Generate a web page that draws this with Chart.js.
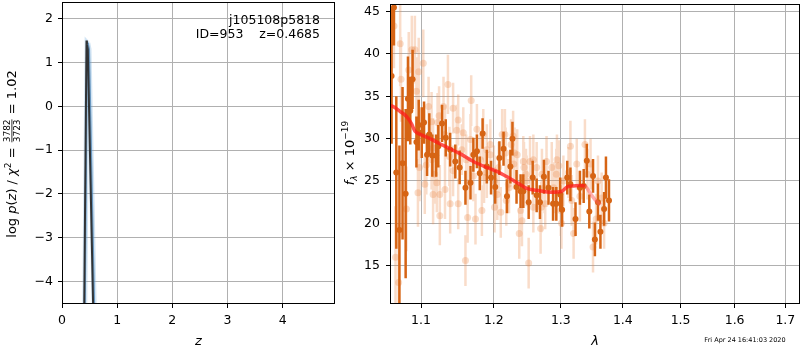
<!DOCTYPE html>
<html>
<head>
<meta charset="utf-8">
<script src="https://cdn.jsdelivr.net/npm/chart.js@4.4.0/dist/chart.umd.min.js"></script>
<style>
  html, body { margin: 0; padding: 0; background: #fff; }
  #wrap { position: relative; width: 800px; height: 350px; overflow: hidden; }
  #pz { position: absolute; left: 0; top: 0; }
  #spec { position: absolute; left: 340px; top: 0; }
</style>
</head>
<body>
<div id="wrap">
  <canvas id="pz" width="345" height="350"></canvas>
  <canvas id="spec" width="464" height="350"></canvas>
</div>
<script>
// --- p(z) panel ---
const pzTicksX = [0, 1, 2, 3, 4];
const pzTicksY = [-4, -3, -2, -1, 0, 1, 2];
// best-fit log p(z), dark line
const pzBestZ = [0.40, 0.444, 0.452, 0.468, 0.57];
const pzBest = [-5.0, 1.50, 1.42, 1.30, -4.9];
// template fit log p(z), blue line
const pzFitZ = [0.41, 0.455, 0.47, 0.49, 0.59];
const pzFit = [-5.0, 1.45, 1.43, 1.30, -5.0];
const objName = 'j105108p5818';
const objInfo = 'ID=953    z=0.4685';

// --- spectrum panel ---
const specTicksX = [1.1, 1.2, 1.3, 1.4, 1.5, 1.6, 1.7];
const specTicksY = [15, 20, 25, 30, 35, 40, 45];

// binned spectrum (dark)
const darkWave = [1.062, 1.065, 1.068, 1.072, 1.076, 1.080, 1.083, 1.086, 1.089, 1.094,
  1.097, 1.101, 1.104, 1.108, 1.111, 1.115, 1.120, 1.123, 1.128, 1.133,
  1.139, 1.146, 1.152, 1.160, 1.167, 1.171, 1.176, 1.180, 1.184, 1.190,
  1.196, 1.202, 1.208, 1.214, 1.219, 1.224, 1.227, 1.233, 1.239, 1.243,
  1.251, 1.257, 1.263, 1.268, 1.274, 1.281, 1.288, 1.293, 1.299, 1.302,
  1.310, 1.315, 1.323, 1.330, 1.336, 1.341, 1.345, 1.351, 1.354, 1.359,
  1.363, 1.369, 1.372, 1.377];
const darkFlux = [37.4, 45.5, 26.0, 19.2, 27.1, 23.5, 34.7, 33.3, 37.0, 29.6,
  31.6, 30.7, 31.9, 28.1, 30.5, 28.0, 28.0, 29.1, 31.8, 30.1,
  28.7, 27.3, 26.6, 24.2, 24.8, 28.1, 28.5, 25.9, 30.6, 26.7,
  25.4, 24.3, 27.7, 28.8, 23.2, 26.7, 30.0, 24.3, 23.8, 23.8,
  22.5, 25.4, 23.3, 22.5, 25.5, 24.2, 22.3, 22.3, 23.4, 21.6,
  25.4, 24.6, 20.5, 24.2, 24.4, 27.4, 21.4, 25.6, 18.1, 22.5,
  19.0, 21.7, 25.4, 22.7];
const darkErr = [8, 4.5, 9, 10, 9, 10, 5, 4, 3.5, 3,
  3, 3, 2.5, 2.5, 2.5, 2.5, 2.5, 2.5, 2.2, 2.2,
  2, 2, 2, 2, 2, 2, 2, 2, 1.8, 2,
  2, 2, 2, 2, 2, 2, 2, 2, 2, 2,
  2, 2, 2, 2, 2, 2, 2, 2, 2, 2,
  2, 2, 2, 2, 2, 2, 2, 2, 2, 2.2,
  2, 2, 2.5, 2.5];

// unbinned spectrum (light)
const lightWave = [1.065, 1.067, 1.071, 1.073, 1.074, 1.081, 1.084, 1.088, 1.092, 1.094,
  1.096, 1.097, 1.098, 1.103, 1.105, 1.107, 1.110, 1.114, 1.114, 1.116,
  1.116, 1.118, 1.121, 1.122, 1.124, 1.125, 1.125, 1.130, 1.132, 1.132,
  1.136, 1.138, 1.139, 1.143, 1.143, 1.148, 1.150, 1.150, 1.155, 1.157,
  1.160, 1.161, 1.163, 1.163, 1.167, 1.168, 1.171, 1.174, 1.176, 1.181,
  1.183, 1.185, 1.186, 1.190, 1.190, 1.195, 1.195, 1.200, 1.201, 1.201,
  1.205, 1.207, 1.210, 1.212, 1.216, 1.217, 1.218, 1.221, 1.222, 1.225,
  1.228, 1.229, 1.230, 1.234, 1.237, 1.239, 1.241, 1.243, 1.244, 1.247,
  1.248, 1.251, 1.253, 1.258, 1.258, 1.263, 1.269, 1.270, 1.271, 1.275,
  1.276, 1.278, 1.286, 1.289, 1.293, 1.294, 1.297, 1.300, 1.301, 1.304,
  1.312, 1.315, 1.317, 1.320, 1.325, 1.330, 1.338, 1.342, 1.347, 1.351,
  1.356, 1.359, 1.365, 1.369];
const lightFlux = [43.3, 16.0, 13.0, 41.2, 37.0, 21.7, 38.1, 40.5, 40.5, 35.6,
  23.6, 37.9, 26.6, 38.9, 24.6, 26.9, 33.8, 32.0, 27.5, 28.9,
  23.4, 25.8, 24.8, 31.9, 32.7, 23.4, 20.9, 33.8, 30.5, 24.0,
  36.4, 27.9, 22.3, 33.6, 26.2, 31.0, 32.2, 22.3, 28.7, 30.7,
  15.6, 27.5, 20.7, 24.8, 29.9, 34.5, 25.6, 20.5, 31.1, 27.5,
  21.5, 30.5, 25.4, 28.7, 26.0, 28.1, 29.3, 26.2, 25.0, 21.9,
  23.4, 26.6, 21.3, 30.5, 30.5, 28.3, 22.7, 24.6, 24.2, 29.3,
  30.3, 27.0, 28.3, 28.1, 18.8, 21.5, 20.3, 27.3, 26.6, 25.8,
  25.0, 15.3, 27.3, 21.9, 27.5, 26.6, 19.4, 21.9, 25.8, 24.2,
  22.3, 27.3, 26.6, 24.2, 25.8, 27.5, 26.8, 21.5, 20.0, 25.0,
  26.0, 29.1, 22.7, 18.8, 27.0, 23.2, 29.3, 25.8, 27.0, 17.2,
  20.5, 25.0, 23.0, 20.0];
const lightErr = [5, 6, 7, 5, 5, 5, 4.5, 4, 4, 4,
  4, 4, 4, 4, 3.5, 3.5, 3.5, 3.5, 3.5, 3.5,
  3.5, 3.5, 3.5, 3.5, 3.5, 3.5, 3.5, 3.5, 3.5, 3.5,
  3.5, 3.5, 3.5, 3, 3, 3, 3, 3, 3, 3,
  3, 3, 3, 3, 3, 3, 3, 3, 3, 3,
  3, 3, 3, 3, 3, 3, 3, 3, 3, 3,
  3, 3, 3, 3, 3, 3, 3, 3, 3, 3,
  3, 3, 3, 3, 3, 3, 3, 3, 3, 3,
  3, 3, 3, 3, 3, 3, 3, 3, 3, 3,
  3, 3, 3, 3, 3, 3, 3, 3, 3, 3,
  3, 3, 3, 3, 3, 3, 3, 3, 3, 3,
  3, 3, 3, 3];

// best-fit model
const modelWave = [1.060, 1.064, 1.073, 1.079, 1.083, 1.088, 1.092, 1.099, 1.112, 1.125,
  1.139, 1.153, 1.171, 1.190, 1.205, 1.219, 1.234, 1.249, 1.263, 1.279,
  1.294, 1.302, 1.310, 1.318, 1.338, 1.346, 1.355, 1.363];
const modelFlux = [33.9, 33.8, 33.2, 32.8, 32.4, 31.7, 30.9, 30.5, 30.0, 29.4,
  28.8, 28.2, 27.3, 26.6, 26.1, 25.5, 24.8, 24.1, 23.9, 23.7,
  23.7, 23.8, 24.3, 24.4, 24.4, 23.6, 22.7, 22.2];

const timestamp = 'Fri Apr 24 16:41:03 2020';

const FONT = 'DejaVu Sans';
const darkColor = 'rgb(214,100,20)';
const lightColor = 'rgba(235,140,75,0.3)';

function pairs(xs, ys) {
  return xs.map((x, i) => ({ x: x, y: ys[i] }));
}

function errSegments(xs, ys, es) {
  const out = [];
  xs.forEach((x, i) => {
    out.push({ x: x, y: ys[i] - es[i] }, { x: x, y: ys[i] + es[i] }, { x: x, y: null });
  });
  return out;
}

function minusLabel(v) {
  return v < 0 ? '\u2212' + Math.abs(v) : String(v);
}

// no extra room for labels that hang over the ends of an axis
function noEdgePadding(s) {
  s.paddingTop = 0;
  s.paddingBottom = 0;
  s.paddingLeft = 0;
  s.paddingRight = 0;
}

// black box round the plot area, like matplotlib spines
const frame = {
  id: 'frame',
  afterDraw(chart) {
    const { ctx, chartArea: a } = chart;
    ctx.save();
    ctx.strokeStyle = '#000';
    ctx.lineWidth = 1;
    ctx.strokeRect(a.left + 0.5, a.top + 0.5, a.right - a.left - 1, a.bottom - a.top - 1);
    ctx.restore();
  }
};

// draw a run of text pieces centred on 0 (for the rotated y labels)
function drawRuns(ctx, runs) {
  let total = 0;
  runs.forEach(r => {
    ctx.font = r.font;
    if (r.frac) {
      r.w = Math.max(ctx.measureText(r.top).width, ctx.measureText(r.bot).width) + 2;
    } else {
      r.w = ctx.measureText(r.t).width;
    }
    total += r.w;
  });
  let x = -total / 2;
  runs.forEach(r => {
    ctx.font = r.font;
    if (r.frac) {
      ctx.textAlign = 'center';
      ctx.fillText(r.top, x + r.w / 2, -6);
      ctx.fillText(r.bot, x + r.w / 2, 4);
      ctx.fillRect(x + 1, -4.5, r.w - 2, 0.8);
      ctx.textAlign = 'left';
    } else {
      ctx.fillText(r.t, x, r.dy || 0);
    }
    x += r.w;
  });
}

const pzLabels = {
  id: 'pzLabels',
  afterDraw(chart) {
    const ctx = chart.ctx;
    const a = chart.chartArea;
    ctx.save();
    ctx.fillStyle = '#000';
    ctx.textBaseline = 'alphabetic';
    ctx.textAlign = 'right';
    ctx.font = '12.5px "' + FONT + '"';
    ctx.fillText(objName, a.right - 15, 24);
    ctx.fillText(objInfo, a.right - 15, 38);

    ctx.translate(16, 154);
    ctx.rotate(-Math.PI / 2);
    ctx.textAlign = 'left';
    const f = '13px "' + FONT + '"';
    const fi = 'italic 13px "' + FONT + '"';
    const fs = '9px "' + FONT + '"';
    drawRuns(ctx, [
      { t: 'log ', font: f },
      { t: 'p', font: fi },
      { t: '(', font: f },
      { t: 'z', font: fi },
      { t: ') / ', font: f },
      { t: '\u03c7', font: fi },
      { t: '2', font: fs, dy: -5 },
      { t: ' = ', font: f },
      { frac: true, top: '3782', bot: '3723', font: fs },
      { t: ' = 1.02', font: f }
    ]);
    ctx.restore();
  }
};

const specLabels = {
  id: 'specLabels',
  afterDraw(chart) {
    const ctx = chart.ctx;
    ctx.save();
    ctx.fillStyle = '#000';
    ctx.textBaseline = 'alphabetic';
    ctx.font = '6.5px "' + FONT + '"';
    ctx.textAlign = 'center';
    ctx.fillText(timestamp, 405, 342);

    ctx.translate(14, 153);
    ctx.rotate(-Math.PI / 2);
    ctx.textAlign = 'left';
    drawRuns(ctx, [
      { t: 'f', font: 'italic 13px "' + FONT + '"' },
      { t: '\u03bb', font: 'italic 9px "' + FONT + '"', dy: 3 },
      { t: ' \u00d7 10', font: '13px "' + FONT + '"' },
      { t: '\u221219', font: '9px "' + FONT + '"', dy: -6 }
    ]);
    ctx.restore();
  }
};

const tickFont = { family: FONT, size: 12.5 };
const gridOpts = { color: '#b0b0b0', lineWidth: 1, tickColor: '#000', tickLength: 4 };

new Chart(document.getElementById('pz'), {
  type: 'scatter',
  data: {
    datasets: [
      {
        data: pairs(pzBestZ, pzBest),
        showLine: true,
        borderColor: 'rgba(45,45,45,0.95)',
        borderWidth: 2,
        pointRadius: 0,
        order: 0
      },
      {
        data: pairs(pzFitZ, pzFit),
        showLine: true,
        borderColor: 'rgba(70,125,175,0.75)',
        borderWidth: 2,
        pointRadius: 0,
        order: 1
      },
      {
        data: pairs(pzFitZ, pzFit),
        showLine: true,
        borderColor: 'rgba(110,170,220,0.3)',
        borderWidth: 5,
        pointRadius: 0,
        order: 2
      }
    ]
  },
  options: {
    responsive: false,
    animation: false,
    layout: { padding: { top: 2, right: 10, left: 0, bottom: 0 } },
    plugins: { legend: { display: false }, tooltip: { enabled: false } },
    scales: {
      x: {
        type: 'linear',
        min: 0,
        max: 4.95,
        grid: gridOpts,
        border: { display: false },
        ticks: { font: tickFont, color: '#000', padding: 5, maxRotation: 0 },
        afterBuildTicks: s => { s.ticks = pzTicksX.map(v => ({ value: v })); },
        afterFit: s => { s.height = 46; noEdgePadding(s); },
        title: { display: true, text: 'z', font: { family: FONT, size: 13, style: 'italic' }, color: '#000', padding: { top: 0, bottom: 1 } }
      },
      y: {
        type: 'linear',
        min: -4.51,
        max: 2.38,
        grid: gridOpts,
        border: { display: false },
        ticks: { font: tickFont, color: '#000', padding: 5, callback: v => minusLabel(v) },
        afterBuildTicks: s => { s.ticks = pzTicksY.map(v => ({ value: v })); },
        afterFit: s => { s.width = 62; noEdgePadding(s); }
      }
    }
  },
  plugins: [frame, pzLabels]
});

new Chart(document.getElementById('spec'), {
  type: 'scatter',
  data: {
    datasets: [
      {
        data: pairs(modelWave, modelFlux),
        showLine: true,
        borderWidth: 3.5,
        pointRadius: 0,
        tension: 0.3,
        segment: {
          borderColor: c => c.p0.parsed.x >= 1.338 ? 'rgba(255,90,90,0.5)' : 'rgba(255,25,25,0.75)'
        },
        order: 0
      },
      {
        data: pairs(darkWave, darkFlux),
        pointRadius: 3,
        pointBackgroundColor: darkColor,
        pointBorderWidth: 0,
        order: 1
      },
      {
        data: errSegments(darkWave, darkFlux, darkErr),
        showLine: true,
        spanGaps: false,
        borderColor: darkColor,
        borderWidth: 2.5,
        borderCapStyle: 'butt',
        pointRadius: 0,
        order: 2
      },
      {
        data: pairs(lightWave, lightFlux),
        pointRadius: 3.5,
        pointBackgroundColor: lightColor,
        pointBorderWidth: 0,
        order: 3
      },
      {
        data: errSegments(lightWave, lightFlux, lightErr),
        showLine: true,
        spanGaps: false,
        borderColor: lightColor,
        borderWidth: 2.5,
        borderCapStyle: 'butt',
        pointRadius: 0,
        order: 4
      }
    ]
  },
  options: {
    responsive: false,
    animation: false,
    layout: { padding: { top: 2, right: 1, left: 0, bottom: 0 } },
    plugins: { legend: { display: false }, tooltip: { enabled: false } },
    scales: {
      x: {
        type: 'logarithmic',
        min: 1.060,
        max: 1.730,
        grid: gridOpts,
        border: { display: false },
        ticks: { font: tickFont, color: '#000', padding: 5, maxRotation: 0, autoSkip: false, callback: v => Number(v).toFixed(1) },
        afterBuildTicks: s => { s.ticks = specTicksX.map(v => ({ value: v })); },
        afterFit: s => { s.height = 46; noEdgePadding(s); },
        title: { display: true, text: '\u03bb', font: { family: FONT, size: 13, style: 'italic' }, color: '#000', padding: { top: 0, bottom: 1 } }
      },
      y: {
        type: 'linear',
        min: 10.47,
        max: 45.9,
        grid: gridOpts,
        border: { display: false },
        ticks: { font: tickFont, color: '#000', padding: 6 },
        afterBuildTicks: s => { s.ticks = specTicksY.map(v => ({ value: v })); },
        afterFit: s => { s.width = 50; noEdgePadding(s); }
      }
    }
  },
  plugins: [frame, specLabels]
});
</script>
</body>
</html>
